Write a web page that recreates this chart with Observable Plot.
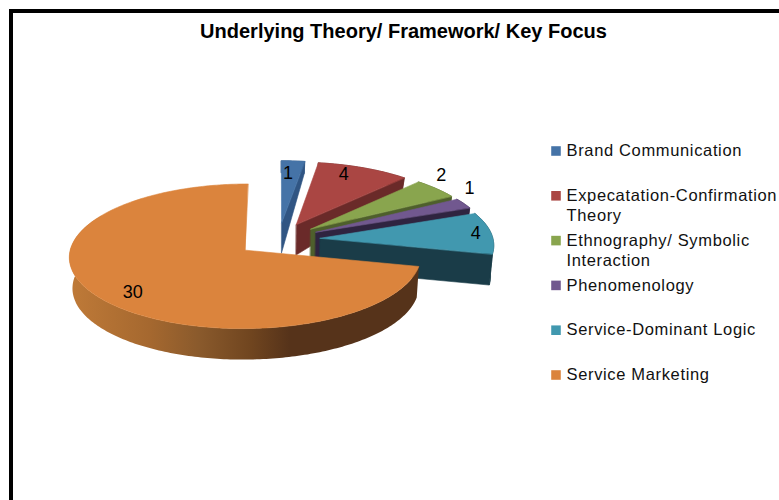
<!DOCTYPE html>
<html>
<head>
<meta charset="utf-8">
<script src="https://cdn.jsdelivr.net/npm/d3@7"></script>
<script src="https://cdn.jsdelivr.net/npm/@observablehq/plot@0.6"></script>
<style>
html,body{margin:0;padding:0;background:#fff;overflow:hidden}
#frame{position:absolute;left:9px;top:9px;right:0;bottom:0;border-left:4px solid #000;border-top:4px solid #000;pointer-events:none}
#chart{position:absolute;left:0;top:0}
.ttl text{letter-spacing:0px}
.leg text{letter-spacing:0.65px}
</style>
</head>
<body>
<div id="chart"></div>
<div id="frame"></div>
<script>
const title = "Underlying Theory/ Framework/ Key Focus";
const categories = ["Brand Communication","Expecatation-Confirmation\nTheory","Ethnography/ Symbolic\nInteraction","Phenomenology","Service-Dominant Logic","Service Marketing"];
const values = [1,4,2,1,4,30];
const topColors = ["#4573A7","#AA4643","#89A54E","#71588F","#4198AF","#DB843D"];
const wallColors = ["#305583","#6A2A29","#4E5F2C","#2F2440","#1A3C48","#56331A"];
const rimStops = [["0%","#BF7A38"],["23%","#A5682F"],["37%","#8A5A2C"],["52%","#70451F"],["63%","#56331A"],["100%","#56331A"]];
const labelRadius = [0.79,0.85,1.18,1.17,0.91,0.82];
const labelTurn = [-1.3,-4.7,-6.8,-9.3,0,-4];

// view of the tilted, exploded pie
const view = {ox:278, oy:239, R:173, H:70, k:0.0833, explode:0.2416};
const rad = d => d*Math.PI/180;
const thickness = v => v<0.2 ? 31 : Math.max(12, 31-(v-0.2)*25.3);
function top3d(u,v){const w=1+view.k*v;return [view.ox+view.R*u/w, view.oy-view.H*v/w];}
function bottom3d(u,v){const [x,y]=top3d(u,v);return [view.ox+(x-view.ox)*0.985, y+thickness(v)];}

const total = d3.sum(values);
let acc = 0;
const slices = values.map((value,i)=>{
  const a0 = acc/total*360; acc += value; const a1 = acc/total*360;
  const mid = (a0+a1)/2;
  return {i,value,a0,a1,mid,ax:view.explode*Math.sin(rad(mid)),ay:view.explode*Math.cos(rad(mid))};
});
const rim = (s,a)=>[s.ax+Math.sin(rad(a)), s.ay+Math.cos(rad(a))];
function arcAngles(a0,a1){const out=[];for(let a=a0;a<a1;a+=1)out.push(a);out.push(a1);return out;}

let pid = 0;
const toRows = (pts,color)=>{const id=pid++;return pts.map(([x,y])=>({id,x,y,color}));};
const backPolys = [], bigWall = [], bigTop = [];
const big = slices[slices.length-1];
for(const s of slices){
  const angles = arcAngles(s.a0, s===big ? Math.min(s.a1,300) : s.a1);
  const wall = [...angles.map(a=>top3d(...rim(s,a))), ...angles.slice().reverse().map(a=>bottom3d(...rim(s,a)))];
  const top = [top3d(s.ax,s.ay), ...arcAngles(s.a0,s.a1).map(a=>top3d(...rim(s,a)))];
  if(s===big){
    bigWall.push(...toRows(wall,"url(#rimShade)"));
    bigTop.push(...toRows(top,topColors[s.i]));
  } else {
    backPolys.push(...toRows(wall,wallColors[s.i]));
    const e=rim(s,s.a1);
    backPolys.push(...toRows([top3d(s.ax,s.ay),top3d(...e),bottom3d(...e),bottom3d(s.ax,s.ay)],wallColors[s.i]));
    backPolys.push(...toRows(top,topColors[s.i]));
  }
}

const dataLabels = slices.map(s=>{
  const a=rad(s.mid+labelTurn[s.i]), r=labelRadius[s.i];
  const [x,y]=top3d(s.ax+r*Math.sin(a),s.ay+r*Math.cos(a));
  return {x,y,text:String(s.value)};
});

const rowStep = 44.8, rowTop = 150.5;
const legend = categories.map((name,i)=>({name,color:topColors[i],y:rowTop+i*rowStep}));
const font = "Liberation Sans, Arial, sans-serif";

function rimGradient(){
  const ns="http://www.w3.org/2000/svg";
  const defs=document.createElementNS(ns,"defs");
  const g=document.createElementNS(ns,"linearGradient");
  g.setAttribute("id","rimShade");
  g.setAttribute("gradientUnits","userSpaceOnUse");
  g.setAttribute("x1","69");g.setAttribute("x2","418");g.setAttribute("y1","0");g.setAttribute("y2","0");
  for(const [o,c] of rimStops){const st=document.createElementNS(ns,"stop");st.setAttribute("offset",o);st.setAttribute("stop-color",c);g.append(st);}
  defs.append(g);
  return defs;
}

const plot = Plot.plot({
  width:779,height:500,margin:0,
  x:{type:"identity",axis:null},
  y:{type:"identity",axis:null},
  color:{type:"identity"},
  style:{background:"#fff"},
  marks:[
    rimGradient,
    Plot.line(backPolys,{x:"x",y:"y",z:"id",fill:"color",stroke:"color",strokeWidth:0.6,curve:"linear-closed"}),
    Plot.line(bigWall,{x:"x",y:"y",z:"id",fill:"url(#rimShade)",stroke:"none",curve:"linear-closed"}),
    Plot.line(bigTop,{x:"x",y:"y",z:"id",fill:"color",stroke:"color",strokeWidth:0.6,curve:"linear-closed"}),
    Plot.text(dataLabels,{x:"x",y:"y",text:"text",fontSize:18,fontFamily:font,fill:"#000"}),
    Plot.text([title],{x:()=>403,y:()=>31,text:d=>d,fontSize:20,fontWeight:"bold",fontFamily:font,fill:"#000",className:"ttl"}),
    Plot.dot(legend,{x:()=>555.5,y:"y",symbol:"square",r:5.4,fill:"color",stroke:"none"}),
    Plot.text(legend,{x:()=>566,y:"y",text:"name",textAnchor:"start",lineAnchor:"top",dy:-9,lineHeight:1.22,fontSize:16.5,fontFamily:font,fill:"#111",className:"leg"})
  ]
});
document.getElementById("chart").append(plot);
</script>
</body>
</html>
